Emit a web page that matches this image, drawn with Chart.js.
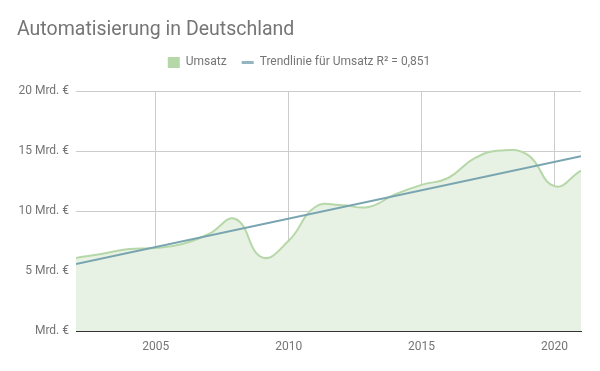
<!DOCTYPE html>
<html>
<head>
<meta charset="utf-8">
<script src="https://cdn.jsdelivr.net/npm/chart.js@4.4.1/dist/chart.umd.min.js"></script>
<style>
  html, body { margin: 0; padding: 0; background: #fff; }
  #wrap { width: 600px; height: 371px; }
</style>
</head>
<body>
<div id="wrap"><canvas id="c" width="600" height="371"></canvas></div>
<script>
const years = [2002, 2003, 2004, 2005, 2006, 2007, 2008, 2009, 2010, 2011, 2012, 2013, 2014, 2015, 2016, 2017, 2018, 2019, 2020, 2021];
const umsatz = [6.1, 6.45, 6.85, 6.93, 7.26, 8.1, 9.35, 6.15, 7.53, 10.35, 10.5, 10.35, 11.4, 12.2, 12.77, 14.43, 15.07, 14.7, 12.09, 13.38];
const trendYears = [2002, 2021];
const trendValues = [5.6, 14.59];
const xTicks = [2005, 2010, 2015, 2020];
const yTicks = [0, 5, 10, 15, 20];
const titleText = 'Automatisierung in Deutschland';
const seriesNames = ['Umsatz', 'Trendlinie für Umsatz R² = 0,851'];

const textColor = '#757575';
const greenLine = '#b6d7a8';
const greenFill = 'rgb(232, 242, 228)';
const trendColor = '#79a5b1';

const legendMargin = {
  id: 'legendMargin',
  beforeInit(chart) {
    const origFit = chart.legend.fit;
    chart.legend.fit = function () {
      origFit.call(this);
      this.height += 13;
    };
  }
};

new Chart(document.getElementById('c'), {
  type: 'line',
  data: {
    datasets: [
      {
        label: seriesNames[0],
        data: years.map((y, i) => ({ x: y, y: umsatz[i] })),
        borderColor: greenLine,
        backgroundColor: greenFill,
        borderWidth: 2,
        fill: 'origin',
        tension: 0.45,
        pointRadius: 0,
        order: 2
      },
      {
        label: seriesNames[1],
        data: trendYears.map((y, i) => ({ x: y, y: trendValues[i] })),
        borderColor: trendColor,
        borderWidth: 2,
        fill: false,
        pointRadius: 0,
        tension: 0,
        order: 1
      }
    ]
  },
  options: {
    responsive: false,
    animation: false,
    devicePixelRatio: 1,
    layout: { padding: { left: 17, right: 19, top: 0, bottom: 0 } },
    plugins: {
      title: {
        display: true,
        text: titleText,
        align: 'start',
        color: textColor,
        font: { family: 'Roboto', size: 19.5, weight: 'normal' },
        padding: { top: 18, bottom: 0 }
      },
      legend: {
        display: true,
        position: 'top',
        align: 'center',
        labels: {
          usePointStyle: true,
          boxHeight: 11,
          pointStyleWidth: 12,
          padding: 15,
          color: textColor,
          font: { family: 'Roboto', size: 12 },
          generateLabels: () => [
            { text: seriesNames[0], fillStyle: greenLine, strokeStyle: greenLine, lineWidth: 0, pointStyle: 'rect', datasetIndex: 0, fontColor: textColor },
            { text: seriesNames[1], fillStyle: '#93b5bf', strokeStyle: '#93b5bf', lineWidth: 3, pointStyle: 'line', datasetIndex: 1, fontColor: textColor }
          ]
        }
      },
      tooltip: { enabled: false }
    },
    scales: {
      x: {
        type: 'linear',
        min: years[0],
        max: years[years.length - 1],
        afterBuildTicks: (s) => { s.ticks = xTicks.map(v => ({ value: v })); },
        afterFit: (s) => { s.height = 40; },
        grid: { color: '#cccccc', drawTicks: false },
        border: { display: true, color: '#333333', width: 1 },
        ticks: {
          color: textColor,
          font: { family: 'Roboto', size: 12 },
          padding: 9,
          maxRotation: 0,
          callback: (v) => String(v)
        }
      },
      y: {
        min: yTicks[0],
        max: yTicks[yTicks.length - 1],
        afterBuildTicks: (s) => { s.ticks = yTicks.map(v => ({ value: v })); },
        afterFit: (s) => { s.width = 59; },
        grid: { color: (ctx) => ctx.tick && ctx.tick.value === 0 ? 'rgba(0,0,0,0)' : '#cccccc', drawTicks: false },
        border: { display: false },
        ticks: {
          color: textColor,
          font: { family: 'Roboto', size: 12 },
          padding: 7,
          callback: (v) => v === 0 ? 'Mrd. €' : v + ' Mrd. €'
        }
      }
    }
  },
  plugins: [legendMargin]
});
</script>
</body>
</html>
